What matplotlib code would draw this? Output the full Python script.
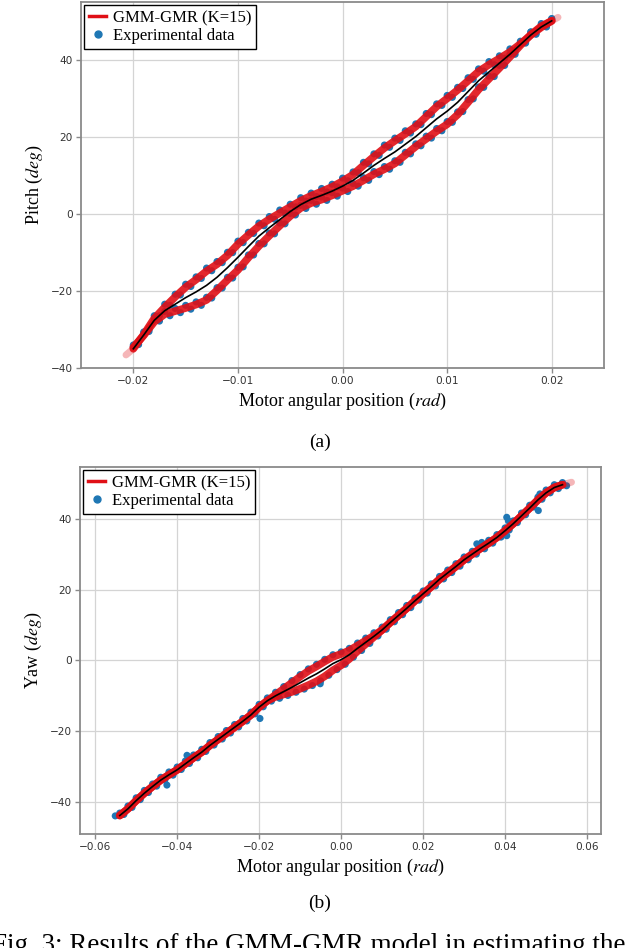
import matplotlib
matplotlib.use("Agg")
import matplotlib.pyplot as plt
from matplotlib.lines import Line2D
import numpy as np

# ---------------- data: pitch (panel a) ----------------
pitch_x = [-0.0200,-0.0190,-0.0180,-0.0170,-0.0160,-0.0150,-0.0140,-0.0130,-0.0120,-0.0110,
           -0.0100,-0.0090,-0.0080,-0.0070,-0.0060,-0.0050,-0.0040,-0.0030,-0.0020,-0.0010,
           0.0000,0.0010,0.0020,0.0030,0.0040,0.0050,0.0060,0.0070,0.0080,0.0090,
           0.0100,0.0110,0.0120,0.0130,0.0140,0.0150,0.0160,0.0170,0.0180,0.0190,0.0200]
pitch_gmr_up = [-35.0,-31.3,-27.1,-24.2,-21.5,-19.0,-17.0,-14.8,-13.0,-10.7,
                -7.8,-5.4,-3.1,-1.3,0.3,1.9,3.5,4.8,5.9,7.1,
                8.6,10.3,12.7,15.0,17.2,19.1,20.9,22.8,25.4,28.0,
                30.1,32.3,34.7,37.1,38.9,40.5,42.2,44.3,46.6,48.6,50.3]
pitch_gmr_dn = [-34.6,-31.5,-28.0,-26.0,-25.2,-24.4,-23.5,-22.3,-19.8,-17.1,
                -14.5,-11.3,-8.3,-5.6,-3.0,-0.5,1.6,2.9,3.8,4.9,
                6.1,7.3,8.8,10.4,11.7,13.2,15.4,17.6,19.6,21.6,
                23.4,25.9,29.1,32.4,35.2,38.0,40.9,43.9,46.7,48.9,50.3]
pitch_mean = [-35.0,-31.4,-27.6,-25.1,-23.4,-21.7,-20.2,-18.5,-16.4,-13.9,
              -11.2,-8.4,-5.7,-3.5,-1.4,0.7,2.5,3.9,4.9,6.0,
              7.3,8.8,10.7,12.7,14.5,16.2,18.2,20.2,22.5,24.8,
              26.8,29.1,31.9,34.7,37.0,39.3,41.6,44.1,46.6,48.7,50.3]
pitch_tail_lo_x = [-0.0207, -0.0200]
pitch_tail_lo_y = [-36.6, -35.0]
pitch_tail_hi_x = [0.0200, 0.0206]
pitch_tail_hi_y = [50.3, 51.2]

pitch_data_x = [-0.0200,-0.0195,-0.0190,-0.0185,-0.0180,-0.0175,-0.0170,-0.0165,-0.0160,-0.0155,
                -0.0150,-0.0145,-0.0140,-0.0135,-0.0130,-0.0125,-0.0120,-0.0115,-0.0110,-0.0105,
                -0.0100,-0.0095,-0.0090,-0.0085,-0.0080,-0.0075,-0.0070,-0.0065,-0.0060,-0.0055,
                -0.0050,-0.0045,-0.0040,-0.0035,-0.0030,-0.0025,-0.0020,-0.0015,-0.0010,-0.0005,
                0.0000,0.0005,0.0010,0.0015,0.0020,0.0025,0.0030,0.0035,0.0040,0.0045,
                0.0050,0.0055,0.0060,0.0065,0.0070,0.0075,0.0080,0.0085,0.0090,0.0095,
                0.0100,0.0105,0.0110,0.0115,0.0120,0.0125,0.0130,0.0135,0.0140,0.0145,
                0.0150,0.0155,0.0160,0.0165,0.0170,0.0175,0.0180,0.0185,0.0190,0.0195,0.0200]
pitch_data_up = [-34.4,-33.9,-30.6,-30.0,-26.4,-26.4,-23.4,-23.7,-20.8,-21.0,
                 -18.2,-18.8,-16.3,-16.7,-14.0,-14.7,-12.3,-12.6,-9.9,-10.0,
                 -7.0,-7.4,-4.7,-5.0,-2.3,-3.0,-0.6,-1.3,1.1,0.3,
                 2.6,1.9,4.3,3.4,5.5,4.6,6.7,5.8,7.8,7.1,
                 9.4,8.7,11.0,10.8,13.5,13.1,15.7,15.3,18.0,17.4,
                 19.8,19.2,21.7,21.1,23.5,23.3,26.2,25.9,28.7,28.3,
                 30.9,30.4,33.0,32.7,35.5,35.1,37.8,37.2,39.7,38.9,
                 41.2,40.6,43.0,42.5,45.0,44.7,47.4,46.8,49.3,48.7,50.9]
pitch_data_dn = [-34.0,-33.8,-30.8,-30.5,-27.3,-27.8,-25.3,-26.4,-24.5,-25.6,
                 -23.7,-24.7,-22.8,-23.7,-21.6,-21.8,-19.1,-19.2,-16.4,-16.6,
                 -13.8,-13.7,-10.6,-10.6,-7.6,-7.7,-4.9,-5.1,-2.3,-2.5,
                 0.2,-0.2,2.3,1.5,3.6,2.6,4.5,3.6,5.6,4.7,
                 6.8,5.9,8.0,7.3,9.5,8.8,11.1,10.3,12.4,11.7,
                 13.9,13.5,16.1,15.7,18.3,17.8,20.3,19.8,22.3,21.7,
                 24.1,23.9,26.6,26.7,29.8,30.0,33.1,33.0,35.9,35.8,
                 38.7,38.7,41.6,41.6,44.6,44.5,47.4,47.0,49.6,48.9,50.8]

# ---------------- data: yaw (panel b) ----------------
yaw_x = [-0.054,-0.052,-0.050,-0.048,-0.046,-0.044,-0.042,-0.040,-0.038,-0.036,
         -0.034,-0.032,-0.030,-0.028,-0.026,-0.024,-0.022,-0.020,-0.018,-0.016,
         -0.014,-0.012,-0.010,-0.008,-0.006,-0.004,-0.002,0.000,0.002,0.004,
         0.006,0.008,0.010,0.012,0.014,0.016,0.018,0.020,0.022,0.024,
         0.026,0.028,0.030,0.032,0.034,0.036,0.038,0.040,0.042,0.044,
         0.046,0.048,0.050,0.052,0.054]
yaw_mean = [-43.8,-41.9,-39.6,-37.5,-35.6,-33.8,-32.3,-30.9,-29.2,-27.5,
            -25.9,-24.0,-22.3,-20.6,-18.9,-17.2,-15.4,-13.2,-11.4,-10.0,
            -8.8,-7.6,-6.3,-5.0,-3.8,-2.4,-0.9,0.2,1.6,3.4,
            5.1,6.8,8.6,10.7,12.7,14.7,16.8,18.8,20.8,22.9,
            24.7,26.5,28.4,30.0,31.6,33.1,34.7,36.6,38.6,40.8,
            43.0,45.3,47.3,48.8,49.6]
yaw_gmr_up = [-43.8,-41.9,-39.6,-37.5,-35.6,-33.8,-32.3,-30.9,-29.2,-27.5,
              -25.9,-24.0,-22.3,-20.6,-18.9,-17.2,-15.4,-13.2,-11.4,-9.7,
              -8.0,-6.3,-4.6,-3.0,-1.7,-0.3,1.0,1.8,2.8,4.2,
              5.6,7.0,8.6,10.7,12.7,14.7,16.8,18.8,20.8,22.9,
              24.7,26.5,28.4,30.0,31.6,33.1,34.7,36.6,38.6,40.8,
              43.0,45.3,47.3,48.8,49.6]
yaw_gmr_dn = [-43.8,-41.9,-39.6,-37.5,-35.6,-33.8,-32.3,-30.9,-29.2,-27.5,
              -25.9,-24.0,-22.3,-20.6,-18.9,-17.2,-15.4,-13.2,-11.4,-10.3,
              -9.6,-8.9,-8.0,-7.0,-5.9,-4.5,-2.8,-1.4,0.4,2.6,
              4.6,6.6,8.6,10.7,12.7,14.7,16.8,18.8,20.8,22.9,
              24.7,26.5,28.4,30.0,31.6,33.1,34.7,36.6,38.6,40.8,
              43.0,45.3,47.3,48.8,49.6]
yaw_tail_hi_x = [0.054, 0.0562]
yaw_tail_hi_y = [49.6, 50.3]

yaw_data_x = [-0.054,-0.053,-0.052,-0.051,-0.050,-0.049,-0.048,-0.047,-0.046,-0.045,
              -0.044,-0.043,-0.042,-0.041,-0.040,-0.039,-0.038,-0.037,-0.036,-0.035,
              -0.034,-0.033,-0.032,-0.031,-0.030,-0.029,-0.028,-0.027,-0.026,-0.025,
              -0.024,-0.023,-0.022,-0.021,-0.020,-0.019,-0.018,-0.017,-0.016,-0.015,
              -0.014,-0.013,-0.012,-0.011,-0.010,-0.009,-0.008,-0.007,-0.006,-0.005,
              -0.004,-0.003,-0.002,-0.001,0.000,0.001,0.002,0.003,0.004,0.005,
              0.006,0.007,0.008,0.009,0.010,0.011,0.012,0.013,0.014,0.015,
              0.016,0.017,0.018,0.019,0.020,0.021,0.022,0.023,0.024,0.025,
              0.026,0.027,0.028,0.029,0.030,0.031,0.032,0.033,0.034,0.035,
              0.036,0.037,0.038,0.039,0.040,0.041,0.042,0.043,0.044,0.045,
              0.046,0.047,0.048,0.049,0.050,0.051,0.052,0.053,0.054,0.055]
yaw_data_y = [-43.1,-43.5,-41.1,-41.5,-38.8,-39.3,-36.7,-37.3,-34.9,-35.5,
              -33.0,-33.8,-31.5,-32.4,-30.1,-30.8,-28.4,-29.1,-26.7,-27.5,
              -25.1,-25.7,-23.2,-23.9,-21.5,-22.2,-19.8,-20.5,-18.1,-18.8,
              -16.4,-17.1,-14.6,-15.1,-12.4,-13.1,-10.6,-11.5,-9.0,-10.7,
              -7.4,-9.9,-5.7,-9.0,-4.0,-8.1,-2.4,-7.1,-1.1,-5.8,
              0.3,-4.2,1.6,-2.6,2.4,-1.1,3.4,0.9,4.9,2.8,
              6.3,4.8,7.8,6.9,9.4,8.8,11.5,10.9,13.5,12.9,
              15.5,14.9,17.6,17.0,19.6,19.0,21.6,21.0,23.7,23.0,
              25.5,24.8,27.3,26.6,29.2,28.4,30.8,30.0,32.4,31.5,
              33.9,33.1,35.5,34.8,37.4,36.8,39.4,38.9,41.6,41.1,
              43.8,43.3,46.1,45.5,48.1,47.3,49.6,48.5,50.2,49.3]
yaw_out_x = [-0.0551,-0.0425,-0.0376,-0.0198,-0.0051,0.0331,0.0343,0.0404,0.0408,0.0404,0.0481,0.0485]
yaw_out_y = [-43.9,-35.2,-26.8,-16.4,-6.6,32.9,33.3,40.4,39.4,35.2,42.3,47.0]

pitch_xticks = [-0.02, -0.01, 0.00, 0.01, 0.02]
pitch_yticks = [-40, -20, 0, 20, 40]
yaw_xticks = [-0.06, -0.04, -0.02, 0.00, 0.02, 0.04, 0.06]
yaw_yticks = [-40, -20, 0, 20, 40]

# ---------------- style ----------------
plt.rcParams['mathtext.fontset'] = 'stix'
SERIF = 'Liberation Serif'
BLUE = '#1f77b4'
RED = '#e00f16'
GRID = '#d4d4d4'
SPINE = '#8a8a8a'
TICKC = '#333333'

fig = plt.figure(figsize=(6.4, 9.48), dpi=100)
ax1 = fig.add_axes([0.1266, 0.6118, 0.8172, 0.3861])
ax2 = fig.add_axes([0.1250, 0.1203, 0.8141, 0.3871])


def style(ax, xticks, yticks, xlim, ylim, xfmt):
    ax.set_xlim(*xlim)
    ax.set_ylim(*ylim)
    ax.set_xticks(xticks)
    ax.set_xticklabels([xfmt.format(v).replace('-', '\u2212') for v in xticks])
    ax.set_yticks(yticks)
    ax.set_yticklabels([str(v).replace('-', '\u2212') for v in yticks])
    ax.grid(True, color=GRID, linewidth=0.9, zorder=0)
    ax.set_axisbelow(True)
    for s in ax.spines.values():
        s.set_color(SPINE)
        s.set_linewidth(1.3)
    ax.tick_params(axis='both', labelsize=7.6, colors=SPINE, labelcolor=TICKC,
                   length=3.5, width=1.0, pad=2.5)


def draw(ax, xs, ys_list, gx, gup, gdn, mx, my, tails):
    for xs_, ys_ in zip(xs, ys_list):
        ax.scatter(xs_, ys_, s=26, color=BLUE, edgecolors='none', zorder=2)
    ax.plot(gx, gup, color=RED, lw=5.5, alpha=0.9, solid_capstyle='round', zorder=3)
    ax.plot(gx, gdn, color=RED, lw=5.5, alpha=0.9, solid_capstyle='round', zorder=3)
    for tx, ty in tails:
        ax.plot(tx, ty, color=RED, lw=5.0, alpha=0.3, solid_capstyle='round', zorder=3)
    ax.plot(mx, my, color='black', lw=1.2, zorder=4)


draw(ax1, [pitch_data_x, pitch_data_x], [pitch_data_up, pitch_data_dn],
     pitch_x, pitch_gmr_up, pitch_gmr_dn, pitch_x, pitch_mean,
     [(pitch_tail_lo_x, pitch_tail_lo_y), (pitch_tail_hi_x, pitch_tail_hi_y)])
style(ax1, pitch_xticks, pitch_yticks, (-0.025, 0.025), (-40, 55.2), '{:.2f}')

draw(ax2, [yaw_data_x, yaw_out_x], [yaw_data_y, yaw_out_y],
     yaw_x, yaw_gmr_up, yaw_gmr_dn, yaw_x, yaw_mean,
     [(yaw_tail_hi_x, yaw_tail_hi_y)])
style(ax2, yaw_xticks, yaw_yticks, (-0.0637, 0.0634), (-49.0, 54.6), '{:.2f}')

ax1.set_xlabel('Motor angular position ($rad$)', family=SERIF, fontsize=13, labelpad=3)
ax1.set_ylabel('Pitch ($deg$)', family=SERIF, fontsize=13, labelpad=4)
ax2.set_xlabel('Motor angular position ($rad$)', family=SERIF, fontsize=13, labelpad=3)
ax2.set_ylabel('Yaw ($deg$)', family=SERIF, fontsize=13, labelpad=4)

handles = [Line2D([0], [0], color=RED, lw=2.5),
           Line2D([0], [0], marker='o', color=BLUE, lw=0, markersize=5)]
labels = ['GMM-GMR (K=15)', 'Experimental data']
for ax in (ax1, ax2):
    leg = ax.legend(handles, labels, loc='upper left', prop={'family': SERIF, 'size': 12},
                    frameon=True, fancybox=False, framealpha=1, edgecolor='black',
                    borderaxespad=0.2, handlelength=1.0, handletextpad=0.4,
                    borderpad=0.3, labelspacing=0.1)
    leg.get_frame().set_linewidth(1.0)

fig.text(0.5, 0.533, '(a)', ha='center', va='center', family=SERIF, fontsize=14)
fig.text(0.5, 0.047, '(b)', ha='center', va='center', family=SERIF, fontsize=14)
fig.text(-0.012, -0.004, 'Fig. 3: Results of the GMM-GMR model in estimating the',
         ha='left', va='baseline', family=SERIF, fontsize=19.5)

fig.savefig('out.png', dpi=100)
